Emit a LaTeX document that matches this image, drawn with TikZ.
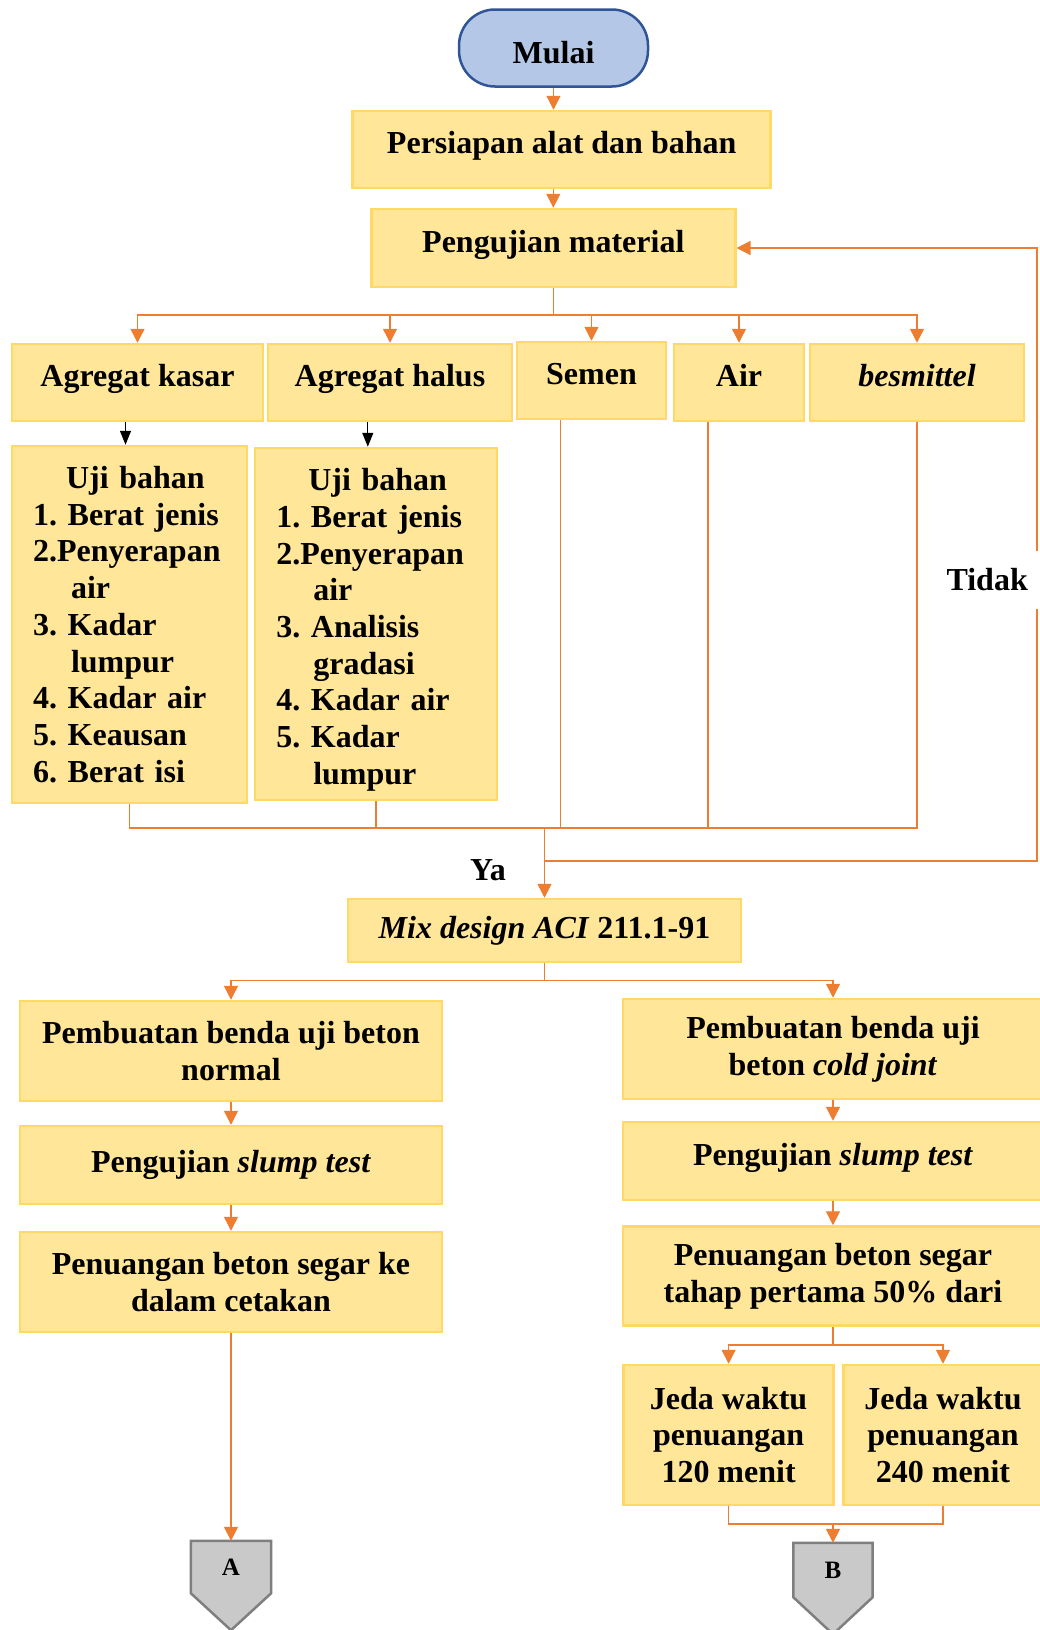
\documentclass[tikz,border=0pt]{standalone}
\usepackage{fontspec}
\setmainfont{Liberation Serif}
\usepackage{tikz}
\usetikzlibrary{arrows.meta}
\usetikzlibrary{graphs}
\usetikzlibrary{backgrounds}
\definecolor{boxfill}{HTML}{FFE699}
\definecolor{boxline}{HTML}{FFD966}
\definecolor{flowline}{HTML}{ED7D31}
\definecolor{startfill}{HTML}{B4C7E7}
\definecolor{startline}{HTML}{2F5597}
\definecolor{pagefill}{HTML}{C9C9C9}
\definecolor{pageline}{HTML}{7F7F7F}
\tikzstyle{box} = [draw=boxline, fill=boxfill, line width=2.5pt, inner sep=0pt, text centered, align=center]
\tikzstyle{raised} = [text height=22pt, text depth=14pt]
\tikzstyle{start} = [draw=startline, fill=startfill, line width=2.5pt, rounded corners=36pt, inner sep=0pt, text centered, text height=30pt, text depth=0pt]
\tikzstyle{offpage} = [inner sep=0pt, font=\fontsize{25}{30}\selectfont\bfseries]
\tikzstyle{flow} = [draw=flowline, line width=1.4pt, -{Triangle[length=14pt, width=14pt]}]
\tikzstyle{wire} = [draw=flowline, line width=1.4pt]
\tikzstyle{pointer} = [draw=black, line width=1.2pt, -{Triangle[length=14pt, width=11pt]}]

\begin{document}
\begin{tikzpicture}[x=1pt, y=-1pt, font=\fontsize{32}{36.7}\selectfont\bfseries\frenchspacing]
        \useasboundingbox (0,0) rectangle (1039,1630);

        \node[start, minimum width=189pt, minimum height=77pt] (13) at (553.5,48) {Mulai};
        \node[box, raised, minimum width=418pt, minimum height=77pt] (23) at (561.7,149.5) {Persiapan alat dan bahan};
        \node[box, raised, minimum width=364pt, minimum height=78pt] (33) at (553.3,248) {Pengujian material};

        \node[box, raised, minimum width=251pt, minimum height=77pt] (41) at (137.5,382.5) {Agregat kasar};
        \node[box, raised, minimum width=244pt, minimum height=77pt] (42) at (390,382.5) {Agregat halus};
        \node[box, raised, minimum width=149pt, minimum height=77pt] (43) at (591.5,380.5) {Semen};
        \node[box, raised, minimum width=130pt, minimum height=77pt] (44) at (739,382.5) {Air};
        \node[box, raised, minimum width=214pt, minimum height=77pt] (45) at (917,382.5) {\textit{besmittel}};

        \node[box, align=left, text width=193pt, minimum width=235pt, minimum height=357pt] (51) at (129.5,624.5)
            {\hspace*{33pt}Uji bahan\\1. Berat jenis\\2.Penyerapan\\\hspace*{38pt}air\\3. Kadar\\\hspace*{38pt}lumpur\\4. Kadar air\\5. Keausan\\6. Berat isi};
        \node[box, align=left, text width=199pt, minimum width=242pt, minimum height=352pt] (52) at (375.8,624)
            {\rule{0pt}{34pt}\hspace*{32pt}Uji bahan\\1. Berat jenis\\2.Penyerapan\\\hspace*{37pt}air\\3. Analisis\\\hspace*{37pt}gradasi\\4. Kadar air\\5. Kadar\\\hspace*{37pt}lumpur};

        \node[box, minimum width=393pt, minimum height=63pt] (63) at (544.5,930.5) {\textit{Mix design ACI} 211.1-91};

        \node[box, minimum width=422pt, minimum height=100pt] (71) at (231,1051) {Pembuatan benda uji beton\\normal};
        \node[box, minimum width=420pt, minimum height=100pt] (75) at (833,1049) {Pembuatan benda uji\\beton \textit{cold joint}};
        \node[box, minimum width=422pt, minimum height=78pt] (81) at (231,1165) {Pengujian \textit{slump test}};
        \node[box, raised, minimum width=420pt, minimum height=78pt] (85) at (833,1161) {Pengujian \textit{slump test}};
        \node[box, minimum width=422pt, minimum height=100pt] (91) at (231,1282) {Penuangan beton segar ke\\dalam cetakan};
        \node[box, minimum width=420pt, minimum height=99pt] (95) at (833,1276) {Penuangan beton segar\\tahap pertama 50\% dari};
        \node[box, minimum width=210pt, minimum height=140pt] (104) at (728.6,1435) {Jeda waktu\\penuangan\\120 menit};
        \node[box, minimum width=199pt, minimum height=140pt] (105) at (943,1435) {Jeda waktu\\penuangan\\240 menit};

        \node[offpage, minimum width=80pt, minimum height=52pt] (111) at (231,1567) {A};
        \node[offpage, minimum width=79pt, minimum height=54pt] (115) at (833,1570) {B};
        \begin{scope}[on background layer]
            \foreach \n in {111,115}
                \draw[draw=pageline, fill=pagefill, line width=2.5pt]
                    (\n.north west) -- (\n.north east) -- (\n.south east) -- ([yshift=-37pt]\n.south) -- (\n.south west) -- cycle;
        \end{scope}

        % bus points
        \coordinate (b1) at (553.3,315);
        \coordinate (b2) at (544.5,828);
        \coordinate (b3) at (544.5,861);
        \coordinate (b4) at (1037,861);
        \coordinate (b5) at (544.5,980.7);
        \coordinate (b6) at (833,1345);
        \coordinate (b7) at (833,1524);

        \draw[flow] (13) -- (13 |- 23.north);
        \draw[flow] (23.south -| 33) -- (33);
        \draw[wire] (33) -- (b1);
        \foreach \n in {41,42,43,44,45}
            \draw[flow] (b1) -| (\n);

        \draw[pointer] ([xshift=-4pt]51.north |- 41.south) -- ([xshift=-4pt]51.north);
        \draw[pointer] ([xshift=-8pt]52.north |- 42.south) -- ([xshift=-8pt]52.north);

        \draw[wire] (51) |- (b2);
        \draw[wire] (52) |- (b2);
        \draw[wire] ([xshift=-31pt]43.south) |- (b2);
        \draw[wire] ([xshift=-31pt]44.south) |- (b2);
        \draw[wire] (45) |- (b2);
        \draw[flow] (b2) -- (63);
        \draw[flow] (b3) -- (b4) |- (33);

        \node (ya) at (488,870) {Ya};
        \node[fill=white, anchor=east, inner xsep=11pt, inner ysep=18pt] (tidak) at (1039,580) {Tidak};

        \draw[wire] (63) -- (b5);
        \draw[flow] (b5) -| (71);
        \draw[flow] (b5) -| (75);
        \graph {
            (71) ->[flow] (81) ->[flow] (91);
            (75) ->[flow] (85) ->[flow] (95);
        };
        \draw[flow] (91) -- (111);

        \draw[wire] (95) -- (b6);
        \draw[flow] (b6) -| (104);
        \draw[flow] (b6) -| (105);
        \draw[wire] (104) |- (b7);
        \draw[wire] (105) |- (b7);
        \draw[flow] (b7) -- (115);
    \end{tikzpicture}
\end{document}
